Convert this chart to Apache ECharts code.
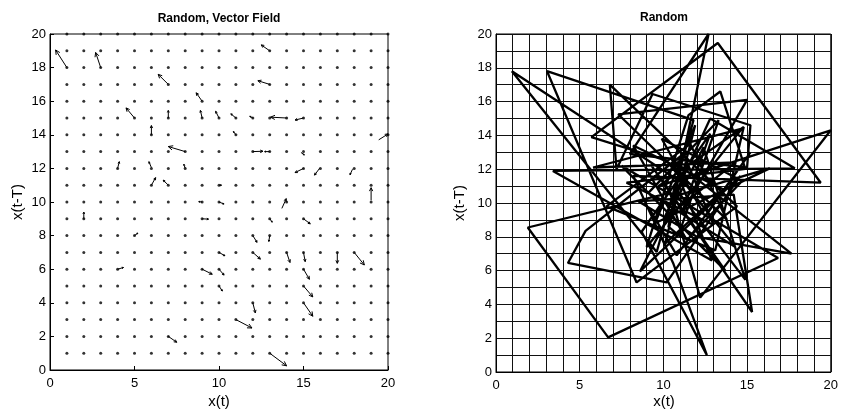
<!DOCTYPE html>
<html><head><meta charset="utf-8">
<script src="https://cdn.jsdelivr.net/npm/echarts@6/dist/echarts.min.js"></script>
<style>html,body{margin:0;padding:0;background:#fff}#c{width:841px;height:413px}</style>
</head><body><div id="c"></div>
<script>
// ---- Left panel: vector field ----
const gridVals = [1,2,3,4,5,6,7,8,9,10,11,12,13,14,15,16,17,18,19,20];
// arrows: tail (x0,y0) -> head (x1,y1)
const arrowX0 = [1, 3, 13, 7, 13, 9, 5, 7, 9, 10, 11, 12, 14, 15, 6, 11, 19.45, 8, 12, 13, 14.85, 4, 6, 8, 15, 15.95, 17.9, 6, 7, 10, 9, 10, 13.72, 19, 2, 9, 13, 15, 5, 12, 13, 10, 12, 14, 15, 17, 18, 4, 9, 10, 15, 10, 15, 12, 15, 11, 7, 13];
const arrowY0 = [18, 18, 19, 17, 17, 16, 15, 15, 15, 15, 15, 15, 15, 15, 14, 14, 13.7, 13, 13, 13, 12.95, 12, 12.05, 12, 12, 12, 11.95, 11, 11, 11, 10, 10, 9.62, 10.1, 9, 9, 9, 9, 8, 8, 8, 7, 7, 7, 7, 7, 7, 6, 6, 6, 6, 5, 5, 4, 4, 3, 2, 1];
const arrowX1 = [0.33, 2.7, 12.5, 6.4, 12.3, 8.65, 4.5, 7, 8.9, 9.8, 10.7, 11.82, 13.05, 14.5, 6, 10.85, 20, 7.0, 12.6, 12.7, 15.05, 4.1, 5.85, 7.92, 14.5, 15.65, 17.75, 6.25, 6.7, 10.15, 8.8, 10.3, 13.98, 19, 2, 9.38, 13.15, 15.4, 5.2, 12.25, 12.95, 10.35, 12.45, 14.2, 15.1, 17, 18.6, 4.35, 9.6, 10.3, 15.35, 10.2, 15.55, 12.15, 15.55, 11.95, 7.5, 14.0];
const arrowY1 = [19.05, 18.9, 19.35, 17.6, 17.22, 16.5, 15.6, 15.45, 15.45, 15.4, 15.25, 15.1, 15.05, 14.88, 14.55, 14.2, 14.05, 13.3, 13.02, 13.0, 12.8, 12.4, 12.4, 12.25, 11.75, 11.6, 11.62, 11.45, 11.3, 11.0, 10.02, 9.88, 10.2, 10.85, 9.4, 8.98, 8.8, 8.7, 8.15, 7.6, 7.65, 6.8, 6.6, 6.4, 6.45, 6.35, 6.25, 6.1, 5.7, 5.65, 5.4, 4.7, 4.35, 3.4, 3.2, 2.5, 1.65, 0.25];

// ---- Right panel: delay-embedding trajectory ----
const pathX = [12.5, 0.95, 9.6, 11.8, 3.05, 8.4, 14.4, 6.8, 7.2, 9.35, 15.2, 15.0, 8.0, 12.7, 10.3, 10.9, 13.3, 9.1, 14.3, 10.2, 5.7, 13.25, 19.4, 8.2, 10.6, 12.6, 8.7, 12.8, 11.1, 15.0, 7.3, 13.8, 11.6, 6.6, 13.1, 14.8, 9.7, 20.0, 12.2, 10.4, 1.9, 6.7, 16.85, 7.5, 13.7, 9.3, 15.3, 14.2, 8.5, 12.0, 17.65, 10.5, 12.9, 3.4, 17.85, 12.8, 10.0, 14.3, 5.8, 14.7, 9.0, 11.5, 13.4, 14.9, 7.8, 13.0, 11.2, 5.35, 4.3, 10.2, 14.6, 8.6, 12.4, 14.9, 11.0, 16.35, 9.5, 11.9, 10.1, 13.6, 8.2, 11.4, 14.7, 9.9, 12.5, 15.2, 10.8, 9.2];
const pathY = [10.3, 17.8, 7.1, 14.9, 17.8, 5.3, 9.8, 17.0, 12.0, 16.45, 14.6, 12.1, 12.9, 20.0, 8.6, 8.1, 14.9, 10.6, 7.4, 12.5, 13.9, 19.47, 11.2, 11.6, 6.4, 1.0, 8.3, 14.1, 9.4, 16.1, 15.25, 9.0, 13.5, 9.8, 7.2, 14.5, 11.0, 14.3, 4.4, 10.6, 8.55, 2.05, 6.75, 12.2, 6.0, 12.2, 3.55, 10.5, 10.1, 8.0, 7.0, 12.6, 6.6, 11.9, 12.05, 15.0, 9.0, 12.4, 12.1, 14.4, 7.4, 15.2, 16.6, 12.0, 11.2, 8.7, 12.9, 8.35, 6.45, 5.3, 11.6, 5.95, 13.3, 5.45, 10.5, 12.05, 8.8, 14.6, 7.6, 10.8, 13.4, 7.8, 11.3, 13.8, 9.2, 13.0, 6.9, 9.6];

const FONT = "'Liberation Sans', Arial, Helvetica, sans-serif";
const dots = [];
gridVals.forEach(x => gridVals.forEach(y => dots.push([x, y])));
const arrows = arrowX0.map((x, i) => [x, arrowY0[i], arrowX1[i], arrowY1[i]]);
const path = pathX.map((x, i) => [x, pathY[i]]);

function arrowItem(params, api) {
  const p0 = api.coord([api.value(0), api.value(1)]);
  const p1 = api.coord([api.value(2), api.value(3)]);
  const dx = p1[0] - p0[0], dy = p1[1] - p0[1];
  const len = Math.sqrt(dx * dx + dy * dy) || 1;
  const h = Math.min(5, Math.max(1.5, len * 0.3));
  const ang = Math.atan2(dy, dx), a = 0.45;
  const l = [p1[0] - h * Math.cos(ang - a), p1[1] - h * Math.sin(ang - a)];
  const r = [p1[0] - h * Math.cos(ang + a), p1[1] - h * Math.sin(ang + a)];
  return { type: 'group', children: [
    { type: 'line', shape: { x1: p0[0], y1: p0[1], x2: p1[0], y2: p1[1] }, style: { stroke: '#000', lineWidth: 1 } },
    { type: 'polyline', shape: { points: [l, p1, r] }, style: { stroke: '#000', fill: null, lineWidth: 1 } }
  ]};
}

const axisCommon = {
  type: 'value', min: 0, max: 20,
  axisLine: { show: true, lineStyle: { color: '#000', width: 1 } },
  axisLabel: { color: '#000', fontSize: 13, fontFamily: FONT },
  splitLine: { show: false }
};

const chart = echarts.init(document.getElementById('c'));
chart.setOption({
  backgroundColor: '#fff',
  animation: false,
  grid: [
    { left: 50, top: 34, width: 338, height: 336, show: true, borderColor: '#000', borderWidth: 1, backgroundColor: 'transparent' },
    { left: 496, top: 34, width: 337, height: 338, show: true, borderColor: '#000', borderWidth: 1, backgroundColor: 'transparent' }
  ],
  xAxis: [
    Object.assign({}, axisCommon, { gridIndex: 0, interval: 5,
      axisTick: { inside: true, length: 4, lineStyle: { color: '#000' } },
      axisLabel: Object.assign({}, axisCommon.axisLabel, { margin: 7 }) }),
    Object.assign({}, axisCommon, { gridIndex: 1, interval: 1,
      axisTick: { show: false },
      splitLine: { show: true, lineStyle: { color: '#111', width: 1 } },
      axisLabel: Object.assign({}, axisCommon.axisLabel, { margin: 7, formatter: v => (v % 5 === 0 ? String(v) : '') }) })
  ],
  yAxis: [
    Object.assign({}, axisCommon, { gridIndex: 0, interval: 2,
      axisTick: { inside: true, length: 4, lineStyle: { color: '#000' } },
      axisLabel: Object.assign({}, axisCommon.axisLabel, { margin: 4 }) }),
    Object.assign({}, axisCommon, { gridIndex: 1, interval: 1,
      axisTick: { show: false },
      splitLine: { show: true, lineStyle: { color: '#111', width: 1 } },
      axisLabel: Object.assign({}, axisCommon.axisLabel, { margin: 4, formatter: v => (v % 2 === 0 ? String(v) : '') }) })
  ],
  series: [
    { type: 'scatter', xAxisIndex: 0, yAxisIndex: 0, data: dots, symbol: 'circle', symbolSize: 3,
      itemStyle: { color: '#000' }, silent: true, clip: false },
    { type: 'custom', xAxisIndex: 0, yAxisIndex: 0, data: arrows, renderItem: arrowItem,
      encode: { x: [0, 2], y: [1, 3] }, silent: true, clip: false },
    { type: 'line', xAxisIndex: 1, yAxisIndex: 1, data: path, symbol: 'none',
      lineStyle: { color: '#000', width: 2.3 }, silent: true, clip: true }
  ],
  graphic: [
    { type: 'text', x: 219, y: 19, style: { text: 'Random, Vector Field', font: "bold 12px " + FONT, fill: '#000', textAlign: 'center', textVerticalAlign: 'middle' } },
    { type: 'text', x: 664, y: 18, style: { text: 'Random', font: "bold 12px " + FONT, fill: '#000', textAlign: 'center', textVerticalAlign: 'middle' } },
    { type: 'text', x: 219, y: 402, style: { text: 'x(t)', font: "15px " + FONT, fill: '#000', textAlign: 'center', textVerticalAlign: 'middle' } },
    { type: 'text', x: 664, y: 402, style: { text: 'x(t)', font: "15px " + FONT, fill: '#000', textAlign: 'center', textVerticalAlign: 'middle' } },
    { type: 'text', x: 18, y: 202, rotation: Math.PI / 2, style: { text: 'x(t-T)', font: "15px " + FONT, fill: '#000', textAlign: 'center', textVerticalAlign: 'middle' } },
    { type: 'text', x: 460, y: 203, rotation: Math.PI / 2, style: { text: 'x(t-T)', font: "15px " + FONT, fill: '#000', textAlign: 'center', textVerticalAlign: 'middle' } }
  ]
});
</script></body></html>
